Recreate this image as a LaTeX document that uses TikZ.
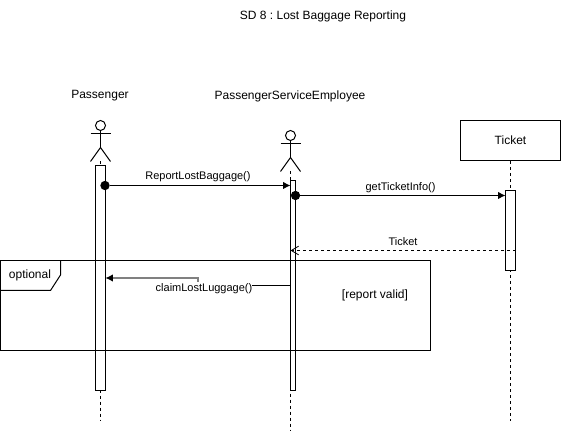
\documentclass[tikz,border=0pt]{standalone}
\usepackage{fontspec}
\setmainfont{Liberation Sans}
\usetikzlibrary{arrows.meta,positioning}
\frenchspacing

\tikzset{
  lbl/.style={font=\fontsize{9}{11}\selectfont, inner sep=0pt},
  msglbl/.style={font=\fontsize{8.25}{10}\selectfont, inner sep=0pt},
  bar/.style={draw, fill=white, line width=0.75pt, minimum width=7.5pt, inner sep=0pt},
  lifeline/.style={line width=0.75pt, dash pattern=on 2.25pt off 2.25pt},
  call/.style={line width=0.75pt, -{Latex[length=5.5pt,width=5.5pt]}},
  reply/.style={line width=0.6pt, dash pattern=on 2.25pt off 2.25pt, -{Straight Barb[length=5.5pt,width=6.5pt]}},
  dot/.style={circle, fill=black, minimum size=7pt, inner sep=0pt}
}

\begin{document}
\begin{tikzpicture}[x=0.75pt,y=-0.75pt]
  \useasboundingbox (0,0) rectangle (561,431);

  \node[lbl] (title) at (323,16) {SD 8 : Lost Baggage Reporting};
  \node[lbl] (pasname) at (100,96) {Passenger};
  \node[lbl] (psename) at (290,96) {PassengerServiceEmployee};
  \node[draw, line width=0.75pt, minimum width=75pt, minimum height=30pt, inner sep=0pt, lbl, text depth=1pt] (tktobj) at (510.5,140.5) {Ticket};

  % stick figures
  \foreach \name/\x/\y in {pas/100.5/125.5, pse/290.5/135.5}{
    \node[draw, circle, line width=0.75pt, minimum size=7.5pt, inner sep=0pt] (\name head) at (\x,\y) {};
    \coordinate (\name hip) at (\x,\y+22);
    \coordinate (\name foot) at (\x,\y+36);
    \draw[line width=0.75pt] (\name head.south) -- (\name hip);
    \draw[line width=0.75pt] (\x-10,\y+8) -- (\x+10,\y+8);
    \draw[line width=0.75pt] (\x-10,\y+36) -- (\name hip) -- (\x+10,\y+36);
  }

  % life lines
  \coordinate (pasend) at (100.5,420.5);
  \coordinate (pseend) at (290.5,430);
  \coordinate (tktend) at (510.5,420.5);
  \draw[lifeline] (pasfoot) -- (pasend);
  \draw[lifeline] (psefoot) -- (pseend);
  \draw[lifeline] (tktobj.south) -- (tktend);

  % activation bars
  \node[bar, minimum height=168.75pt] (pasbar) at (100.5,278) {};
  \node[bar, minimum width=3.75pt, minimum height=157.5pt] (psebar) at (293,285.5) {};
  \node[bar, minimum height=60pt] (tktbar) at (510.5,230.5) {};

  % messages
  \node[dot] (repdot) at (105,185.5) {};
  \coordinate (repend) at (290.5,185.5);
  \draw[call] (repdot) -- (repend);
  \node[msglbl] (replbl) at (198,177) {ReportLostBaggage()};

  \node[dot] (infodot) at (295.5,195.5) {};
  \coordinate (infoend) at (505.5,195.5);
  \draw[call] (infodot) -- (infoend);
  \node[msglbl] (infolbl) at (400.5,188) {getTicketInfo()};

  \coordinate (tktstart) at (515.5,250.5);
  \coordinate (tktback) at (290.5,250.5);
  \draw[reply] (tktstart) -- (tktback);
  \node[msglbl] (tktlbl) at (403,242) {Ticket};

  % optional frame
  \draw[line width=0.75pt] (0.5,260.5) rectangle (430.5,350.5);
  \draw[line width=0.75pt] (60.5,260.5) -- (60.5,275) -- (50.5,290.5) -- (0.5,290.5);
  \node[lbl] (optlbl) at (30,275.5) {optional};
  \node[lbl] (validlbl) at (375,295.5) {[report valid]};

  \coordinate (clmbend) at (198,278);
  \coordinate (clmfoot) at (198,282);
  \coordinate (clmend) at (105.5,278);
  \coordinate (clmstart) at (290.5,285.5);
  \coordinate (clmstop) at (252,285.5);
  \draw[line width=1.1pt, color=gray] (clmfoot) -- (clmbend) -- (112,278);
  \draw[line width=0.75pt, -{Latex[length=5.5pt,width=5.5pt]}] (112,278) -- (clmend);
  \draw[line width=0.75pt] (clmstart) -- (clmstop);
  \node[msglbl] (clmlbl) at (204,289) {claimLostLuggage()};
\end{tikzpicture}
\end{document}
